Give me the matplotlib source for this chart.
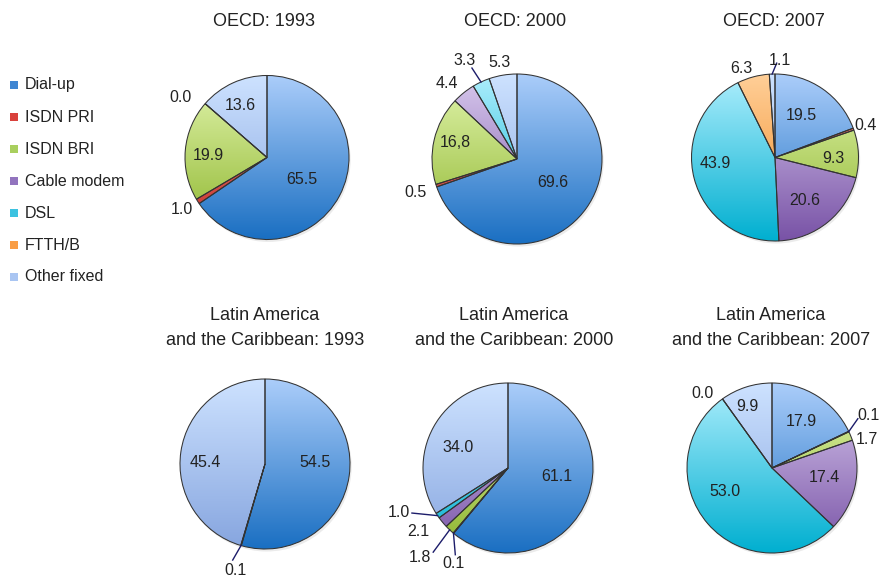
import numpy as np
import matplotlib.pyplot as plt
from matplotlib.colors import LinearSegmentedColormap
from matplotlib.patches import Rectangle, Circle

plt.rcParams["font.family"] = ["Liberation Sans", "DejaVu Sans"]

# categorías (orden horario desde arriba)
categories = ["Dial-up", "ISDN PRI", "ISDN BRI", "Cable modem", "DSL", "FTTH/B", "Other fixed"]

# participación (%) por tecnología; None = sin dato
oecd_1993 = [65.5, 1.0, 19.9, None, None, 0.0, 13.6]
oecd_2000 = [69.6, 0.5, 16.8, 4.4, 3.3, None, 5.3]
oecd_2007 = [19.5, 0.4, 9.3, 20.6, 43.9, 6.3, 1.1]
lac_1993 = [54.5, 0.1, None, None, None, None, 45.4]
lac_2000 = [61.1, 0.1, 1.8, 2.1, 1.0, None, 34.0]
lac_2007 = [17.9, 0.1, 1.7, 17.4, 53.0, 0.0, 9.9]

titles = ["OECD: 1993", "OECD: 2000", "OECD: 2007",
          "Latin America\nand the Caribbean: 1993",
          "Latin America\nand the Caribbean: 2000",
          "Latin America\nand the Caribbean: 2007"]

# colores (degradado de arriba hacia abajo)
top_colors = ["#abcdfa", "#f08a84", "#e2f5ae", "#d9caee", "#aeeefd", "#ffcf98", "#cde2ff"]
bottom_colors = ["#1a6fc2", "#c42e26", "#8db52c", "#7852a6", "#00afd0", "#f08820", "#86a5df"]
legend_colors = ["#3f86d2", "#d9413c", "#a9cf5e", "#9274be", "#3cc2e0", "#f99d45", "#a9c5f2"]

# layout: centro (px), radio (px), posiciones de etiquetas y líneas guía (unidades de radio)
layout = [
    dict(c=(267, 157.5), r=82, tx=264, ty=21,
         labels={0: (0.43, -0.27), 1: (-1.04, -0.64), 2: (-0.72, 0.02), 5: (-1.05, 0.73), 6: (-0.33, 0.63)},
         leaders={}),
    dict(c=(517, 159), r=85, tx=515, ty=21,
         labels={0: (0.42, -0.28), 1: (-1.2, -0.39), 2: (-0.72, 0.19), 3: (-0.82, 0.89),
                 4: (-0.62, 1.16), 6: (-0.21, 1.14)},
         leaders={4: (-0.53, 1.07)}),
    dict(c=(775, 157.5), r=83.5, tx=774, ty=21,
         labels={0: (0.32, 0.50), 1: (1.08, 0.38), 2: (0.70, -0.01), 3: (0.36, -0.51),
                 4: (-0.72, -0.07), 5: (-0.40, 1.07), 6: (0.06, 1.16)},
         leaders={6: (0.02, 1.13)}),
    dict(c=(265, 464), r=85, tx=265, ty=328,
         labels={0: (0.59, 0.02), 1: (-0.35, -1.25), 6: (-0.70, 0.02)},
         leaders={1: (-0.38, -1.13)}),
    dict(c=(508, 468), r=85, tx=514, ty=328,
         labels={0: (0.57, -0.10), 1: (-0.64, -1.12), 2: (-1.04, -1.05), 3: (-1.06, -0.75),
                 4: (-1.28, -0.52), 6: (-0.59, 0.24)},
         leaders={1: (-0.62, -1.02), 2: (-0.88, -0.99), 4: (-1.13, -0.53)}),
    dict(c=(772, 468), r=85, tx=771, ty=328,
         labels={0: (0.34, 0.55), 1: (1.13, 0.62), 2: (1.12, 0.33), 3: (0.62, -0.11),
                 4: (-0.55, -0.28), 5: (-0.82, 0.88), 6: (-0.29, 0.72)},
         leaders={1: (1.01, 0.58)}),
]
label_override = {(1, 2): "16,8"}

W, H = 880, 577
fig = plt.figure(figsize=(W / 100, H / 100), dpi=100)

all_values = [oecd_1993, oecd_2000, oecd_2007, lac_1993, lac_2000, lac_2007]
grad = np.linspace(0, 1, 256).reshape(-1, 1)
L = 1.6

for k, (values, lay, title) in enumerate(zip(all_values, layout, titles)):
    cx, cy = lay["c"]
    r = lay["r"]
    ax = fig.add_axes([(cx - L * r) / W, (H - cy - L * r) / H, 2 * L * r / W, 2 * L * r / H])
    idx = [i for i, v in enumerate(values) if v is not None]
    vals = [values[i] for i in idx]

    ax.add_patch(Circle((0.02, -0.03), 1.0, facecolor="black", alpha=0.08, zorder=0, lw=0))
    wedges, _ = ax.pie(vals, startangle=90, counterclock=False, radius=1,
                       wedgeprops=dict(edgecolor="#333333", linewidth=0.75))
    for w, i in zip(wedges, idx):
        cm = LinearSegmentedColormap.from_list("g", [top_colors[i], bottom_colors[i]])
        im = ax.imshow(grad, extent=(-1, 1, -1, 1), origin="upper", cmap=cm,
                       aspect="auto", zorder=1)
        im.set_clip_path(w)
        w.set_facecolor("none")
        w.set_zorder(2)

        if i in lay["labels"]:
            txt = label_override.get((k, i), f"{values[i]:.1f}")
            lx, ly = lay["labels"][i]
            ax.text(lx, ly, txt, ha="center", va="center", fontsize=11.5, color="#222222", zorder=4)
        if i in lay["leaders"]:
            mid = np.deg2rad((w.theta1 + w.theta2) / 2)
            ex, ey = lay["leaders"][i]
            ax.plot([np.cos(mid), ex], [np.sin(mid), ey], color="#1c1c6a", lw=1.0, zorder=3)

    ax.set_xlim(-L, L)
    ax.set_ylim(-L, L)
    ax.set_aspect("equal")
    ax.axis("off")

    fig.text(lay["tx"] / W, 1 - lay["ty"] / H, title, ha="center", va="center",
             fontsize=13, color="#222222", linespacing=1.6)

# leyenda
for j, (name, col) in enumerate(zip(categories, legend_colors)):
    y = 85 + j * 32
    fig.patches.append(Rectangle((10 / W, 1 - (y + 4) / H), 8 / W, 8 / H,
                                 transform=fig.transFigure, facecolor=col, edgecolor="none"))
    fig.text(25 / W, 1 - y / H, name, ha="left", va="center", fontsize=11.5, color="#222222")

fig.savefig("out.png", dpi=100)
